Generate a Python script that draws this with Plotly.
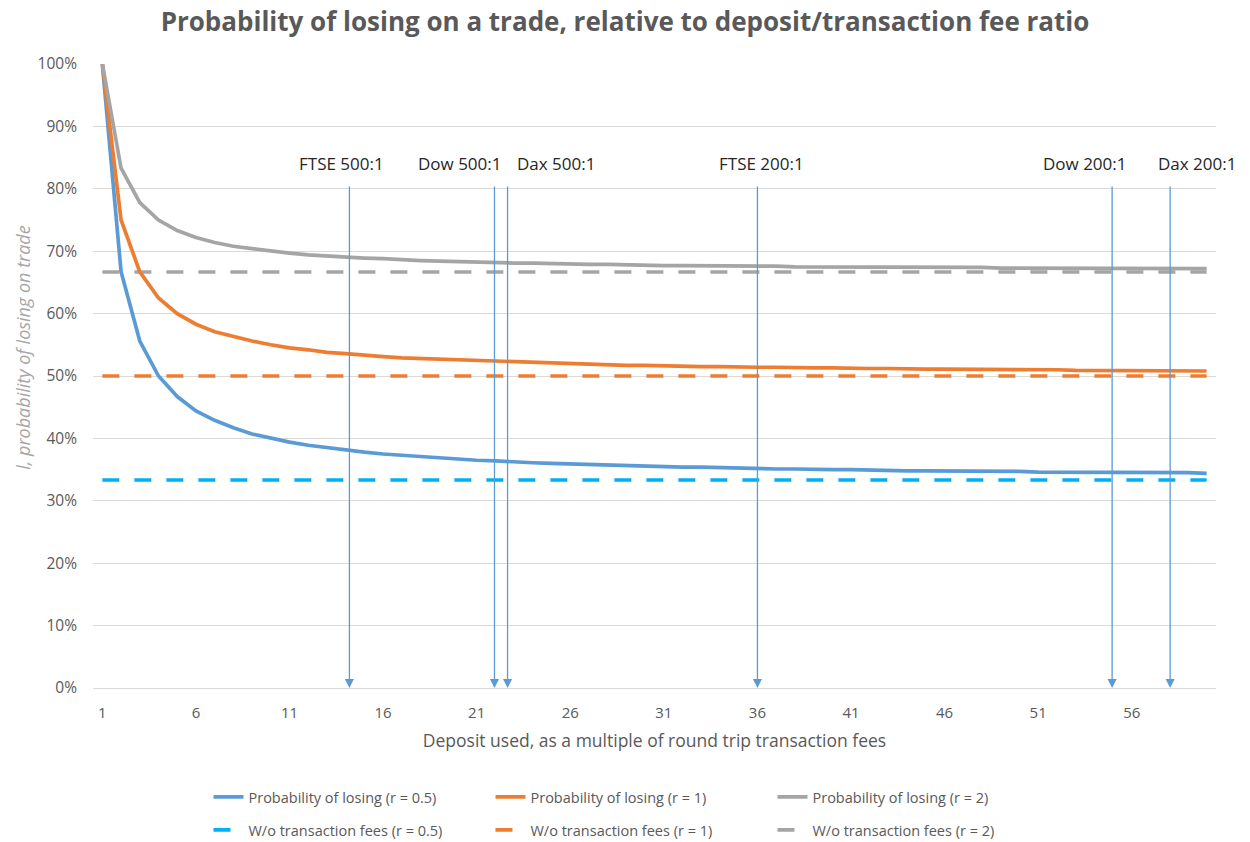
import plotly.graph_objects as go

# ---------------- data ----------------
deposit_multiples = list(range(1, 61))

p_lose_r05 = [1.000, 0.667, 0.556, 0.500, 0.467, 0.444, 0.429, 0.417, 0.407, 0.400,
              0.394, 0.389, 0.385, 0.381, 0.378, 0.375, 0.373, 0.370, 0.368, 0.367,
              0.365, 0.364, 0.362, 0.361, 0.360, 0.359, 0.358, 0.357, 0.356, 0.356,
              0.355, 0.354, 0.354, 0.353, 0.352, 0.352, 0.351, 0.351, 0.350, 0.350,
              0.350, 0.349, 0.349, 0.348, 0.348, 0.348, 0.348, 0.347, 0.347, 0.347,
              0.346, 0.346, 0.346, 0.346, 0.345, 0.345, 0.345, 0.345, 0.345, 0.344]

p_lose_r1 = [1.000, 0.750, 0.667, 0.625, 0.600, 0.583, 0.571, 0.563, 0.556, 0.550,
             0.545, 0.542, 0.538, 0.536, 0.533, 0.531, 0.529, 0.528, 0.526, 0.525,
             0.524, 0.523, 0.522, 0.521, 0.520, 0.519, 0.519, 0.518, 0.517, 0.517,
             0.516, 0.516, 0.515, 0.515, 0.514, 0.514, 0.514, 0.513, 0.513, 0.513,
             0.512, 0.512, 0.512, 0.511, 0.511, 0.511, 0.511, 0.510, 0.510, 0.510,
             0.510, 0.510, 0.509, 0.509, 0.509, 0.509, 0.509, 0.509, 0.508, 0.508]

p_lose_r2 = [1.000, 0.833, 0.778, 0.750, 0.733, 0.722, 0.714, 0.708, 0.704, 0.700,
             0.697, 0.694, 0.692, 0.690, 0.689, 0.688, 0.686, 0.685, 0.684, 0.683,
             0.683, 0.682, 0.681, 0.681, 0.680, 0.679, 0.679, 0.679, 0.678, 0.678,
             0.677, 0.677, 0.677, 0.676, 0.676, 0.676, 0.676, 0.675, 0.675, 0.675,
             0.675, 0.675, 0.674, 0.674, 0.674, 0.674, 0.674, 0.674, 0.673, 0.673,
             0.673, 0.673, 0.673, 0.673, 0.673, 0.673, 0.672, 0.672, 0.672, 0.672]

no_fee_r05 = [0.3333] * 60
no_fee_r1 = [0.5000] * 60
no_fee_r2 = [0.6667] * 60

x_tick_values = [1, 6, 11, 16, 21, 26, 31, 36, 41, 46, 51, 56]
x_tick_labels = ["1", "6", "11", "16", "21", "26", "31", "36", "41", "46", "51", "56"]

marker_names = ["FTSE 500:1", "Dow 500:1", "Dax 500:1", "FTSE 200:1", "Dow 200:1", "Dax 200:1"]
marker_x = [14.2, 21.95, 22.65, 36.0, 54.95, 58.05]
marker_label_x = [13.8, 20.1, 25.25, 36.2, 53.5, 59.5]

# ---------------- styles ----------------
BLUE = "#5B9BD5"
ORANGE = "#ED7D31"
GREY = "#A5A5A5"
CYAN = "#00B0F0"
TXT = "#595959"
FONT = "Open Sans"

fig = go.Figure()

solid = [("Probability of losing (r = 0.5)", p_lose_r05, BLUE),
         ("Probability of losing (r = 1)", p_lose_r1, ORANGE),
         ("Probability of losing (r = 2)", p_lose_r2, GREY)]
dashed = [("W/o transaction fees (r = 0.5)", no_fee_r05, CYAN),
          ("W/o transaction fees (r = 1)", no_fee_r1, ORANGE),
          ("W/o transaction fees (r = 2)", no_fee_r2, GREY)]

for name, vals, col in dashed:
    fig.add_trace(go.Scatter(x=deposit_multiples, y=vals, mode="lines", name=name,
                             line=dict(color=col, width=3.7, dash="17px,15px"),
                             legend="legend2"))
for name, vals, col in solid:
    fig.add_trace(go.Scatter(x=deposit_multiples, y=vals, mode="lines", name=name,
                             line=dict(color=col, width=3.7),
                             legend="legend"))

annotations = []
for name, xv, lx in zip(marker_names, marker_x, marker_label_x):
    annotations.append(dict(x=xv, y=0, ax=xv, ay=0.806, xref="x", yref="y",
                            axref="x", ayref="y", showarrow=True, text="",
                            arrowhead=2, arrowsize=1.4, arrowwidth=1.3,
                            arrowcolor=BLUE, standoff=0))
    annotations.append(dict(x=lx, y=0.84, xref="x", yref="y", text=name,
                            showarrow=False, xanchor="center", yanchor="middle",
                            font=dict(family=FONT, size=17, color="#262626")))

annotations.append(dict(x=-0.062, y=0.546, xref="paper", yref="paper",
                        text="l, probability of losing on trade", textangle=-90,
                        showarrow=False, xanchor="center", yanchor="middle",
                        font=dict(family=FONT, size=18, color="#A6A6A6", style="italic")))

legend_common = dict(orientation="h", x=0.4795, xanchor="center", yanchor="middle",
                     font=dict(family=FONT, size=14.5, color=TXT), traceorder="normal",
                     entrywidth=237, entrywidthmode="pixels")

fig.update_layout(
    width=1250, height=842,
    margin=dict(l=93, r=34, t=64, b=154, autoexpand=False),
    paper_bgcolor="white", plot_bgcolor="white",
    title=dict(text="<b>Probability of losing on a trade, relative to deposit/transaction fee ratio</b>",
               x=0.5, xanchor="center", y=0.9739, yanchor="middle",
               font=dict(family=FONT, size=26, color=TXT)),
    xaxis=dict(range=[0.5, 60.5], tickvals=x_tick_values, ticktext=x_tick_labels,
               showgrid=False, zeroline=False, showline=True, linecolor="#D9D9D9",
               linewidth=1, ticks="", ticklabelstandoff=11,
               tickfont=dict(family=FONT, size=15, color=TXT),
               title=dict(text="Deposit used, as a multiple of round trip transaction fees",
                          font=dict(family=FONT, size=17.5, color=TXT), standoff=13)),
    yaxis=dict(range=[0, 1], dtick=0.1, tickformat=".0%", showgrid=True,
               gridcolor="#D9D9D9", gridwidth=1, zeroline=False, showline=False,
               ticks="", ticklabelstandoff=15,
               tickfont=dict(family=FONT, size=15.5, color=TXT)),
    legend=dict(y=-0.1747, **legend_common),
    legend2=dict(y=-0.2276, **legend_common),
    annotations=annotations,
    showlegend=True,
)

# remove the page's default 8px body margin so the figure fills the window
fig.write_html("out.html",
               config={"displayModeBar": False},
               post_script="document.body.style.margin='0';document.body.style.overflow='hidden';")
